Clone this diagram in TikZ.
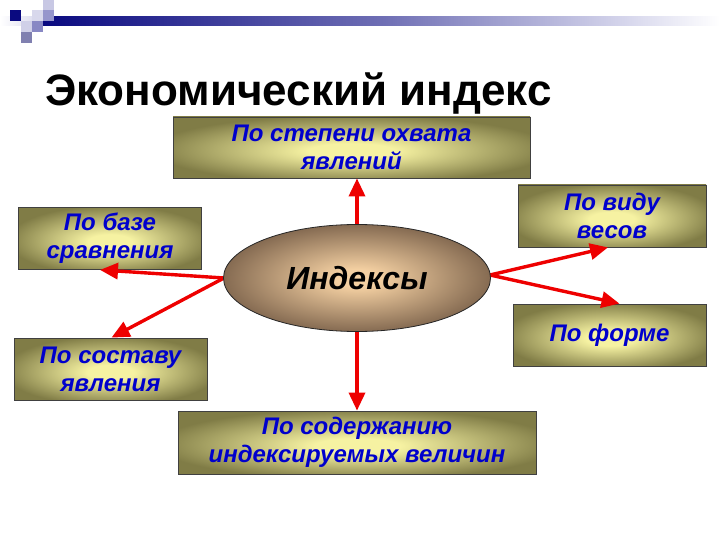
\documentclass[tikz,border=0pt]{standalone}
\usepackage{fontspec}
\setmainfont{Liberation Sans}
\usetikzlibrary{arrows.meta,shapes.geometric,calc}
\definecolor{boxlight}{RGB}{246,242,162}
\definecolor{boxdark}{RGB}{128,124,70}
\definecolor{elllight}{RGB}{244,208,162}
\definecolor{elldark}{RGB}{128,102,78}
\definecolor{textblue}{RGB}{0,0,204}
\definecolor{arrred}{RGB}{238,0,0}
\definecolor{navy}{RGB}{10,10,128}
\definecolor{barmid}{RGB}{110,110,180}
\definecolor{barlight}{RGB}{214,214,236}
\pgfdeclareradialshading{boxshade}{\pgfpoint{0bp}{-3bp}}{color(0bp)=(boxlight); color(6bp)=(boxlight); color(28bp)=(boxdark); color(50bp)=(boxdark)}
\pgfdeclareradialshading{ellshade}{\pgfpoint{0bp}{0bp}}{color(0bp)=(elllight); color(4bp)=(elllight); color(26bp)=(elldark); color(50bp)=(elldark)}
\pgfdeclarehorizontalshading{barshade}{22bp}{color(0bp)=(navy); color(25bp)=(navy); color(50bp)=(barmid); color(68bp)=(barlight); color(75bp)=(white); color(100bp)=(white)}
\pgfdeclarehorizontalshading{fadeshade}{22bp}{color(0bp)=(white); color(25bp)=(white); color(75bp)=(barlight); color(100bp)=(barlight)}
\tikzset{
  box/.style={rectangle, draw=black!75, line width=0.8pt, shade, shading=boxshade,
    align=center, text=textblue, inner sep=0pt,
    font=\bfseries\itshape\fontsize{24}{28}\selectfont},
  arr/.style={draw=arrred, line width=3.4pt, -{Triangle[length=18pt,width=16pt]}},
  sq/.style={draw=none}
}
\begin{document}
\begin{tikzpicture}[x=1pt,y=-1pt]
\useasboundingbox[fill=white] (0,0) rectangle (720,540);
% top decoration
\shade[shading=fadeshade] (0,10) rectangle (43,32);
\shade[shading=barshade] (43,10) rectangle (720,32);
\fill[sq, fill=navy] (10,10) rectangle (21,21);
\fill[sq, fill={rgb,255:red,216;green,216;blue,236}] (32,10) rectangle (43,21);
\fill[sq, fill={rgb,255:red,200;green,200;blue,228}] (43,0) rectangle (54,10);
\fill[sq, fill={rgb,255:red,150;green,150;blue,204}] (43,10) rectangle (54,21);
\fill[sq, fill={rgb,255:red,208;green,208;blue,232}] (21,21) rectangle (32,32);
\fill[sq, fill={rgb,255:red,136;green,136;blue,196}] (32,21) rectangle (43,32);
\fill[sq, fill={rgb,255:red,128;green,128;blue,176}] (21,32) rectangle (32,43);
% title
\node[anchor=base west, inner sep=0pt, font=\bfseries\fontsize{44}{48}\selectfont] (title) at (45,106) {Экономический индекс};
% boxes
\node[box, minimum width=357pt, minimum height=61pt] (b1) at (351.5,147.5) {По степени охвата\\явлений};
\node[box, minimum width=183pt, minimum height=62pt] (b2) at (110,238.5) {По базе\\сравнения};
\node[box, minimum width=188pt, minimum height=62pt] (b3) at (612,216) {По виду\\весов};
\node[box, minimum width=193pt, minimum height=62pt] (b4) at (609.5,335) {По форме};
\node[box, minimum width=193pt, minimum height=62pt] (b5) at (110.5,369) {По составу\\явления};
\node[box, minimum width=358pt, minimum height=63pt] (b6) at (357,442.5) {По содержанию\\индексируемых величин};
% arrows (drawn before ellipse so they start under it)
\coordinate (ec) at (357,278);
\draw[arr] (ec) -- (ec |- b1.south);
\draw[arr] (ec) -- (ec |- b6.north);
\draw[arr] ($(ec)+(-133,0)$) -- ($(b2.south)+(-10,0)$);
\draw[arr] ($(ec)+(-133,0)$) -- ($(b5.north)+(1,0)$);
\draw[arr] ($(ec)+(133,-3)$) -- ($(b3.south)+(-4,0)$);
\draw[arr] ($(ec)+(133,-3)$) -- ($(b4.north)+(10,0)$);
% ellipse
\node[ellipse, draw=black!85, line width=0.8pt, shade, shading=ellshade,
  minimum width=267pt, minimum height=107pt, inner sep=0pt,
  font=\bfseries\itshape\fontsize{32}{36}\selectfont] (ell) at (ec) {Индексы};
\end{tikzpicture}
\end{document}
